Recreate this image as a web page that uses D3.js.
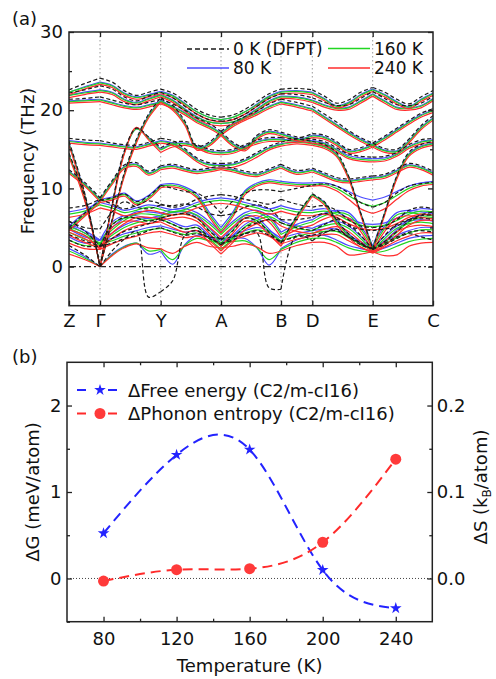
<!DOCTYPE html>
<html>
<head>
<meta charset="utf-8">
<script src="https://cdn.jsdelivr.net/npm/d3@7"></script>
<style>
  body { margin: 0; background: #fff; }
  svg { display: block; }
</style>
</head>
<body>
<svg id="fig" width="496" height="679"></svg>
<script>
// ---------- (a) phonon dispersion along Z-Γ-Y-A-B-D-E-C ----------
const kLabels = ["Z", "Γ", "Y", "A", "B", "D", "E", "C"];
const kPos = [0, 0.0852, 0.2519, 0.4176, 0.5824, 0.6684, 0.8343, 1];
const segDiv = [2, 5, 5, 5, 2, 5, 5];          // sampled points per path segment
const freqTicks = [0, 10, 20, 30];
const freqMinor = [5, 15, 25];

// band frequencies (THz) on the sampled path, one row per band
const bands0K = [
  [2.7,1.5,0.0,2.0,3.5,4.5,-3.9,-3.2,-1.8,4.0,4.6,3.6,3.0,3.4,4.2,4.3,-2.7,-2.9,4.0,3.3,4.3,4.8,3.8,2.8,2.3,2.8,3.6,4.2,3.8,3.4],
  [22.6,23.4,24.1,23.6,22.5,21.9,22.3,22.7,22.2,21.2,20.1,19.4,19.1,19.4,20.1,21.1,22.1,22.7,22.8,22.6,21.8,20.9,21.3,22.3,22.9,22.3,21.4,20.8,21.7,22.5],
  [22.2,22.6,23.1,22.7,21.7,21.2,21.8,22.3,21.6,20.5,19.5,18.8,18.6,18.8,19.5,20.5,21.5,22.1,22.0,21.6,21.0,20.6,20.7,21.5,22.4,21.5,20.7,20.6,20.9,21.8],
  [21.4,21.5,21.7,21.3,20.9,20.7,21.0,21.4,20.8,20.0,19.0,18.3,17.3,15.9,15.3,16.8,17.5,17.2,16.6,16.3,16.0,15.2,14.4,14.1,14.0,14.1,14.6,15.6,16.2,16.4],
  [16.0,9.5,0.0,6.0,12.0,16.3,19.5,21.6,20.6,18.6,15.4,15.9,17.3,18.4,19.2,19.9,20.8,21.4,21.0,20.5,19.5,18.5,17.4,16.5,15.8,15.1,15.0,16.3,18.0,19.3],
  [14.5,9.0,0.0,8.0,14.8,17.7,16.6,15.2,15.9,16.0,15.6,15.0,14.8,15.0,15.6,16.2,16.5,16.5,16.4,17.0,16.8,16.0,15.0,15.2,15.8,16.7,17.7,18.7,19.6,20.2],
  [16.4,16.2,16.1,15.8,15.6,15.5,15.9,16.4,16.1,15.1,13.9,13.3,13.2,13.3,13.8,14.6,15.4,15.9,16.3,16.0,15.6,14.6,11.6,6.9,2.3,6.9,11.6,14.6,15.6,16.0],
  [12.4,10.8,8.8,11.0,13.0,13.3,12.2,12.9,13.1,12.7,12.4,12.6,12.9,12.6,12.2,12.0,12.5,13.1,12.3,12.6,12.0,11.4,11.2,11.4,11.6,11.8,12.5,13.2,12.9,12.2],
  [5.0,6.8,8.5,8.8,9.3,8.3,9.0,10.4,10.0,9.6,9.4,8.4,6.8,8.4,9.4,9.8,9.8,9.6,10.0,10.4,10.6,10.3,9.4,8.2,7.6,8.2,9.4,10.3,10.6,10.8],
  [5.8,4.6,2.6,5.3,6.3,6.2,5.8,6.2,6.6,6.8,6.2,4.6,3.4,4.6,6.2,5.8,4.4,3.0,6.5,9.3,8.3,6.0,4.2,3.0,2.2,3.2,4.5,5.8,6.5,6.6],
  [4.1,3.3,2.6,3.6,4.5,5.0,5.5,6.0,5.4,4.8,5.0,3.8,2.8,3.8,5.0,5.6,6.0,5.6,5.0,4.6,5.4,6.0,5.4,4.0,2.2,4.0,5.4,6.0,6.2,6.0],
  [5.8,5.0,4.8,7.0,8.3,7.6,7.4,7.9,7.8,8.0,7.6,6.8,6.5,6.8,7.6,7.9,7.4,6.0,6.0,6.3,6.8,6.3,5.2,4.8,4.6,4.8,5.2,6.0,6.6,7.0],
  [7.5,7.8,8.6,8.0,7.4,7.8,8.4,8.0,7.6,7.9,8.6,9.0,9.2,9.0,8.6,8.3,8.0,8.6,8.0,7.6,7.8,7.2,6.0,5.2,5.0,5.2,6.0,7.2,7.6,7.4],
  [3.4,2.6,2.6,3.0,3.6,4.0,4.6,5.0,4.4,4.0,4.2,3.8,3.6,3.8,4.2,4.6,4.0,3.2,3.8,4.0,4.4,4.6,3.8,3.0,2.2,3.0,3.8,4.4,4.6,4.4]
];
const bands80K = [
  [2.3,1.3,0.0,1.6,2.6,3.0,1.6,2.0,0.3,2.8,4.0,3.7,3.4,3.6,3.6,2.4,0.2,2.3,3.4,4.0,4.0,3.4,2.7,2.3,2.0,2.4,3.0,3.6,3.9,4.0],
  [22.3,23.0,23.6,23.2,22.2,21.7,22.0,22.4,21.9,20.9,19.8,19.1,18.8,19.1,19.8,20.8,21.8,22.4,22.5,22.3,21.5,20.6,21.0,22.0,22.7,22.0,21.1,20.5,21.4,22.2],
  [21.9,22.3,22.6,22.3,21.4,21.0,21.5,22.0,21.3,20.2,19.2,18.5,18.3,18.5,19.2,20.2,21.2,21.8,21.7,21.3,20.7,20.3,20.4,21.2,22.1,21.2,20.4,20.3,20.6,21.5],
  [21.2,21.3,21.4,21.0,20.6,20.4,20.7,21.1,20.5,19.7,18.7,18.0,17.1,15.7,15.1,16.6,17.3,17.0,16.4,16.1,15.8,15.0,14.2,13.9,13.8,13.9,14.4,15.4,16.0,16.2],
  [15.8,9.3,0.0,5.9,11.8,16.1,19.3,21.3,20.3,18.4,15.2,15.7,17.1,18.2,19.0,19.7,20.5,21.1,20.7,20.2,19.2,18.2,17.2,16.3,15.6,14.9,14.8,16.1,17.8,19.0],
  [14.3,8.8,0.0,7.9,14.6,17.6,16.5,15.0,15.7,15.8,15.4,14.8,14.6,14.8,15.4,16.0,16.3,16.3,16.2,16.8,16.6,15.8,14.8,15.0,15.6,16.5,17.5,18.5,19.4,20.0],
  [16.1,15.9,15.8,15.6,15.4,15.3,15.7,16.1,15.8,14.9,13.7,13.1,13.0,13.1,13.6,14.4,15.2,15.7,16.0,15.8,15.4,14.4,11.5,6.9,2.5,6.9,11.5,14.4,15.4,15.8],
  [12.2,10.6,8.6,10.8,12.8,13.1,12.0,12.7,12.9,12.5,12.2,12.4,12.7,12.4,12.0,11.8,12.3,12.9,12.1,12.4,11.8,11.2,11.0,11.2,11.4,11.6,12.3,13.0,12.7,12.0],
  [5.2,6.9,8.6,8.9,9.4,8.4,9.1,10.5,10.6,10.2,9.3,7.0,5.0,7.0,9.7,10.7,11.1,10.9,10.7,10.7,10.7,10.3,9.6,8.9,8.5,8.9,9.6,10.3,10.7,10.9],
  [5.4,4.6,3.4,5.7,6.5,6.5,6.2,6.6,6.9,7.0,6.5,5.0,3.4,5.0,6.5,6.2,4.8,3.2,6.4,9.2,8.2,5.9,4.2,3.0,2.3,3.3,4.7,6.0,6.6,6.6],
  [4.8,3.8,3.4,4.3,5.3,5.9,6.2,6.4,5.7,5.1,5.3,4.0,2.6,4.0,5.4,6.2,6.8,5.9,5.2,4.9,5.5,5.8,5.2,3.9,2.4,3.9,5.2,5.8,6.0,5.8],
  [5.3,4.3,3.4,5.0,6.2,7.0,7.0,6.8,7.3,7.4,6.9,5.8,4.4,5.8,6.9,7.2,6.4,4.4,5.4,6.0,6.8,7.2,6.9,5.2,2.7,5.2,6.9,7.2,7.0,6.8],
  [7.0,7.4,8.2,7.8,7.2,7.5,7.9,7.6,7.3,7.6,8.2,8.6,8.8,8.6,8.2,7.8,7.4,7.8,7.3,7.2,7.4,7.0,6.2,5.6,5.4,5.6,6.2,7.0,7.4,7.3],
  [3.8,3.0,3.4,3.6,4.2,4.6,5.0,5.2,4.8,4.4,4.6,4.0,3.0,4.0,4.6,5.0,4.6,3.6,4.2,4.6,4.8,4.8,4.0,3.2,2.4,3.2,4.0,4.6,5.0,5.0]
];
const bands160K = [
  [2.0,1.1,0.0,1.5,2.5,3.0,2.0,2.2,0.9,2.7,3.6,3.3,3.0,3.2,3.3,2.4,0.9,2.2,3.1,3.6,3.6,3.1,2.4,2.0,1.8,2.0,2.6,3.2,3.5,3.6],
  [22.3,22.9,23.5,23.1,22.1,21.6,21.9,22.3,21.8,20.8,19.8,19.1,18.8,19.1,19.8,20.7,21.7,22.3,22.4,22.2,21.4,20.5,20.9,21.9,22.6,21.9,21.0,20.4,21.3,22.1],
  [21.9,22.2,22.5,22.2,21.3,20.9,21.4,21.9,21.2,20.1,19.1,18.5,18.3,18.5,19.1,20.1,21.1,21.7,21.6,21.2,20.6,20.2,20.3,21.1,22.0,21.1,20.3,20.2,20.5,21.4],
  [21.1,21.2,21.3,20.9,20.5,20.3,20.6,21.0,20.4,19.6,18.6,17.9,17.0,15.6,15.0,16.5,17.2,16.9,16.3,16.0,15.7,14.9,14.0,13.7,13.6,13.7,14.3,15.3,15.9,16.1],
  [15.7,9.2,0.0,5.9,11.7,16.0,19.2,21.2,20.2,18.3,15.1,15.6,17.0,18.1,18.9,19.6,20.4,21.0,20.6,20.1,19.1,18.1,17.1,16.2,15.5,14.8,14.7,16.0,17.7,18.9],
  [14.2,8.7,0.0,7.8,14.5,17.6,16.4,14.9,15.6,15.7,15.3,14.7,14.5,14.7,15.3,15.9,16.2,16.2,16.1,16.7,16.5,15.7,14.7,14.9,15.5,16.4,17.4,18.4,19.3,19.9],
  [16.0,15.8,15.7,15.5,15.3,15.2,15.6,16.0,15.7,14.8,13.6,13.0,12.9,13.0,13.5,14.3,15.1,15.6,15.9,15.7,15.3,14.3,11.4,6.8,2.3,6.8,11.4,14.3,15.3,15.7],
  [12.1,10.5,8.5,10.7,12.7,13.0,11.9,12.6,12.8,12.4,12.1,12.3,12.6,12.3,11.9,11.7,12.2,12.8,12.0,12.3,11.7,11.1,10.9,11.1,11.3,11.5,12.2,12.9,12.6,11.9],
  [4.9,6.6,8.4,8.7,9.2,8.1,8.8,10.3,10.4,10.0,9.0,6.7,4.6,6.7,9.5,10.5,10.9,10.7,10.5,10.5,10.5,10.0,9.1,8.2,7.7,8.2,9.1,10.0,10.5,10.7],
  [5.1,4.3,2.8,5.4,6.2,6.2,5.9,6.3,6.6,6.7,6.2,4.7,3.0,4.7,6.2,5.9,4.5,3.0,6.3,9.2,8.1,5.7,4.0,2.8,2.1,3.1,4.4,5.7,6.3,6.3],
  [4.4,3.5,3.0,4.0,5.0,5.6,5.9,6.1,5.4,4.8,5.0,3.6,2.2,3.6,5.1,5.9,6.4,5.6,4.9,4.6,5.2,5.5,4.9,3.6,2.1,3.6,4.9,5.5,5.7,5.5],
  [4.9,4.0,3.0,4.7,5.9,6.7,6.7,6.5,7.0,7.1,6.6,5.5,4.1,5.5,6.6,6.9,6.1,4.1,5.1,5.7,6.5,6.9,6.6,4.9,2.4,4.9,6.6,6.9,6.7,6.5],
  [6.7,7.1,7.9,7.5,6.9,7.2,7.6,7.3,7.0,7.3,7.9,8.3,8.5,8.3,7.9,7.5,7.1,7.5,7.0,6.9,7.1,6.7,5.9,5.3,5.1,5.3,5.9,6.7,7.1,7.0],
  [3.4,2.7,2.8,3.3,3.9,4.3,4.7,4.9,4.5,4.1,4.3,3.7,2.6,3.7,4.3,4.7,4.3,3.3,3.9,4.3,4.5,4.5,3.7,2.9,2.1,2.9,3.7,4.3,4.7,4.7]
];
const bands240K = [
  [1.6,0.9,0.0,1.4,2.4,2.9,2.4,2.3,1.7,2.6,3.1,2.6,2.4,2.6,2.9,2.5,1.7,2.0,2.7,3.1,3.1,2.6,1.5,1.6,1.9,1.4,1.5,2.6,3.0,3.1],
  [22.0,22.7,23.3,22.9,21.9,21.4,21.7,22.1,21.6,20.6,19.5,18.8,18.5,18.8,19.5,20.5,21.5,22.1,22.2,22.0,21.2,20.3,20.7,21.7,22.4,21.7,20.8,20.2,21.1,21.9],
  [21.6,22.0,22.3,22.0,21.1,20.7,21.2,21.7,21.0,19.9,18.9,18.2,18.0,18.2,18.9,19.9,20.9,21.5,21.4,21.0,20.4,20.0,20.1,20.9,21.8,20.9,20.1,20.0,20.3,21.2],
  [20.9,21.0,21.1,20.7,20.3,20.1,20.4,20.8,20.2,19.4,18.4,17.7,16.8,15.4,14.8,16.3,17.0,16.7,16.1,15.8,15.5,14.7,13.8,13.5,13.4,13.5,14.1,15.1,15.7,15.9],
  [15.5,9.0,0.0,5.8,11.5,15.8,19.0,21.0,20.0,18.1,14.9,15.4,16.8,17.9,18.7,19.4,20.2,20.8,20.4,19.9,18.9,17.9,16.9,16.0,15.3,14.6,14.5,15.8,17.5,18.7],
  [14.0,8.5,0.0,7.7,14.4,17.8,16.2,14.6,15.3,15.5,15.1,14.5,14.3,14.5,15.1,15.7,16.0,16.0,15.9,16.5,16.3,15.5,14.5,14.7,15.3,16.2,17.2,18.2,19.1,19.7],
  [15.8,15.6,15.5,15.3,15.1,15.0,15.4,15.8,15.5,14.6,13.4,12.7,12.6,12.7,13.2,14.0,14.9,15.4,15.7,15.5,15.1,14.1,11.2,6.6,2.0,6.6,11.2,14.1,15.1,15.5],
  [11.9,10.3,8.3,10.5,12.5,12.8,11.7,12.4,12.6,12.2,11.9,12.1,12.4,12.1,11.7,11.5,12.0,12.6,11.8,12.1,11.5,10.9,10.7,10.9,11.1,11.3,12.0,12.7,12.4,11.7],
  [4.6,6.4,8.2,8.5,9.0,7.9,8.6,10.1,10.2,9.8,8.8,6.4,4.3,6.4,9.2,10.3,10.7,10.5,10.3,10.3,10.3,9.7,8.6,7.4,6.8,7.4,8.6,9.7,10.3,10.5],
  [4.7,4.0,2.2,5.0,5.8,5.8,5.5,5.9,6.2,6.3,5.8,4.3,2.6,4.3,5.8,5.5,4.1,2.6,6.0,9.0,7.9,5.4,3.7,2.5,1.9,2.7,4.0,5.3,5.9,5.9],
  [4.0,3.1,2.4,3.6,4.6,5.2,5.5,5.7,5.0,4.4,4.6,3.1,1.6,3.1,4.7,5.5,6.0,5.2,4.5,4.2,4.8,5.1,4.5,3.2,1.8,3.2,4.5,5.1,5.3,5.1],
  [4.4,3.6,2.5,4.3,5.5,6.3,6.3,6.1,6.6,6.7,6.2,5.1,3.7,5.1,6.2,6.5,5.7,3.7,4.7,5.3,6.1,6.5,6.2,4.5,2.0,4.5,6.2,6.5,6.3,6.1],
  [6.3,6.7,7.5,7.1,6.5,6.8,7.2,6.9,6.6,6.9,7.5,7.9,8.1,7.9,7.5,7.1,6.7,7.1,6.6,6.5,6.7,6.3,5.5,4.9,4.7,4.9,5.5,6.3,6.7,6.6],
  [3.0,2.3,2.2,2.9,3.5,3.9,4.3,4.5,4.1,3.7,3.9,3.3,2.0,3.3,3.9,4.3,3.9,2.9,3.5,3.9,4.1,4.1,3.3,2.5,1.7,2.5,3.3,3.9,4.3,4.3]
];

// ---------- (b) free energy and phonon entropy differences ----------
const temperatures = [80, 120, 160, 200, 240];
const deltaFree = [0.523, 1.43, 1.49, 0.098, -0.344];        // meV/atom
const deltaEntropy = [-0.003, 0.0101, 0.0113, 0.0419, 0.138]; // kB/atom
const tempTicks = [80, 120, 160, 200, 240];
const tempMinor = [100, 140, 180, 220];
const gTicks = [0, 1, 2];
const gMinor = [-0.5, 0.5, 1.5];
const sTicks = [0, 0.1, 0.2];
const sMinor = [0.05, 0.15];

const FONT = "'DejaVu Sans', Verdana, sans-serif";
const INK = "#222";
const svg = d3.select("#fig");

function styleAxis(g, size) {
  g.select(".domain").remove();
  g.selectAll(".tick line").attr("stroke", INK).attr("stroke-width", 1.3);
  g.selectAll(".tick text").attr("font-family", FONT).attr("font-size", size || 18).attr("fill", "#111");
  return g;
}

// ===== panel (a) =====
const PA = { l: 69, r: 433, t: 32, b: 305.7 };
const xa = d3.scaleLinear().domain([0, 1]).range([PA.l, PA.r]);
const ya = d3.scaleLinear().domain([-5, 30]).range([PA.b, PA.t]);

// sampled path coordinates
const kGrid = [kPos[0]];
const segStart = [0];
segDiv.forEach((n, s) => {
  for (let j = 1; j <= n; j++) kGrid.push(kPos[s] + (kPos[s + 1] - kPos[s]) * j / n);
  segStart.push(kGrid.length - 1);
});

svg.append("defs").append("clipPath").attr("id", "clipA")
  .append("rect").attr("x", PA.l).attr("y", PA.t).attr("width", PA.r - PA.l).attr("height", PA.b - PA.t);

const gA = svg.append("g");

// high-symmetry guides
gA.selectAll("line.sym").data(kPos.slice(1, -1)).join("line")
  .attr("x1", d => xa(d)).attr("x2", d => xa(d))
  .attr("y1", PA.t).attr("y2", PA.b)
  .attr("stroke", "#9a9a9a").attr("stroke-width", 1).attr("stroke-dasharray", "1.5,2.5");

// zero-frequency reference
gA.append("line")
  .attr("x1", PA.l).attr("x2", PA.r).attr("y1", ya(0)).attr("y2", ya(0))
  .attr("stroke", INK).attr("stroke-width", 1.2).attr("stroke-dasharray", "7,3,2,3");

const series = [
  { label: "80 K", bands: bands80K, color: "#4b4bff", dash: null },
  { label: "160 K", bands: bands160K, color: "#22d622", dash: null },
  { label: "240 K", bands: bands240K, color: "#ff2d2d", dash: null },
  { label: "0 K (DFPT)", bands: bands0K, color: "#1a1a1a", dash: "4,2.5" }
];

const segLine = d3.line().x(d => xa(d[0])).y(d => ya(d[1])).curve(d3.curveCatmullRom.alpha(0.5));
const gBands = gA.append("g").attr("clip-path", "url(#clipA)");
series.forEach(sr => {
  const g = gBands.append("g");
  sr.bands.forEach(band => {
    for (let s = 0; s < segDiv.length; s++) {
      const pts = [];
      for (let i = segStart[s]; i <= segStart[s + 1]; i++) pts.push([kGrid[i], band[i]]);
      g.append("path").attr("d", segLine(pts))
        .attr("fill", "none").attr("stroke", sr.color)
        .attr("stroke-width", 1.2)
        .attr("stroke-dasharray", sr.dash);
    }
  });
});

// frame and axes
gA.append("rect").attr("x", PA.l).attr("y", PA.t).attr("width", PA.r - PA.l).attr("height", PA.b - PA.t)
  .attr("fill", "none").attr("stroke", INK).attr("stroke-width", 1.5);

styleAxis(gA.append("g").attr("transform", `translate(${PA.l},0)`)
  .call(d3.axisLeft(ya).tickValues(freqTicks).tickSizeInner(-5).tickSizeOuter(0).tickPadding(6)));
styleAxis(gA.append("g").attr("transform", `translate(${PA.l},0)`)
  .call(d3.axisLeft(ya).tickValues(freqMinor).tickSize(-3).tickFormat("")));
styleAxis(gA.append("g").attr("transform", `translate(${PA.r},0)`)
  .call(d3.axisRight(ya).tickValues(freqTicks).tickSize(-5).tickFormat("")));
styleAxis(gA.append("g").attr("transform", `translate(${PA.r},0)`)
  .call(d3.axisRight(ya).tickValues(freqMinor).tickSize(-3).tickFormat("")));
styleAxis(gA.append("g").attr("transform", `translate(0,${PA.t})`)
  .call(d3.axisTop(xa).tickValues(kPos.slice(1, -1)).tickSize(-5).tickFormat("")));
styleAxis(gA.append("g").attr("transform", `translate(0,${PA.b})`)
  .call(d3.axisBottom(xa).tickValues(kPos).tickFormat((d, i) => kLabels[i])
    .tickSizeInner(-5).tickSizeOuter(0).tickPadding(8.5)));

gA.append("text").attr("transform", `translate(34,${161}) rotate(-90)`)
  .attr("text-anchor", "middle").attr("font-family", FONT).attr("font-size", 18).attr("fill", "#111")
  .text("Frequency (THz)");
gA.append("text").attr("x", 12).attr("y", 25)
  .attr("font-family", FONT).attr("font-size", 18).attr("fill", "#111").text("(a)");

// legend (a)
const legA = [
  { s: series[3], x: 187, y: 49 },
  { s: series[0], x: 187, y: 68 },
  { s: series[1], x: 328, y: 48.5 },
  { s: series[2], x: 328, y: 68 }
];
legA.forEach(it => {
  gA.append("line").attr("x1", it.x).attr("x2", it.x + 42).attr("y1", it.y).attr("y2", it.y)
    .attr("stroke", it.s.color).attr("stroke-width", 1.3).attr("stroke-dasharray", it.s.dash ? "5,3" : null);
  gA.append("text").attr("x", it.x + 46).attr("y", it.y + 6)
    .attr("font-family", FONT).attr("font-size", 17).attr("fill", "#111").text(it.s.label);
});

// ===== panel (b) =====
const PB = { l: 67, r: 432.3, t: 362.3, b: 621.7 };
const xb = d3.scaleLinear().domain([60, 260]).range([PB.l, PB.r]);
const yG = d3.scaleLinear().domain([-0.5, 2.5]).range([PB.b, PB.t]);
const yS = d3.scaleLinear().domain([-0.05, 0.25]).range([PB.b, PB.t]);
const gB = svg.append("g");

gB.append("line").attr("x1", PB.l).attr("x2", PB.r).attr("y1", yG(0)).attr("y2", yG(0))
  .attr("stroke", "#444").attr("stroke-width", 1).attr("stroke-dasharray", "1,2");

const BLUE = "#2323ff", RED = "#ff2a2a";
const freeLine = d3.line().x((d, i) => xb(temperatures[i])).y(d => yG(d)).curve(d3.curveNatural);
const entLine = d3.line().x((d, i) => xb(temperatures[i])).y(d => yS(d)).curve(d3.curveNatural);

gB.append("path").attr("d", freeLine(deltaFree)).attr("fill", "none")
  .attr("stroke", BLUE).attr("stroke-width", 2).attr("stroke-dasharray", "10,6");
gB.append("path").attr("d", entLine(deltaEntropy)).attr("fill", "none")
  .attr("stroke", RED).attr("stroke-width", 2).attr("stroke-dasharray", "10,6");

const star = d3.symbol().type(d3.symbolStar).size(42);
gB.selectAll("path.star").data(deltaFree).join("path")
  .attr("transform", (d, i) => `translate(${xb(temperatures[i])},${yG(d)})`)
  .attr("d", star()).attr("fill", BLUE);
gB.selectAll("circle.ent").data(deltaEntropy).join("circle")
  .attr("cx", (d, i) => xb(temperatures[i])).attr("cy", d => yS(d)).attr("r", 5.5)
  .attr("fill", "#ff3a3a");

gB.append("rect").attr("x", PB.l).attr("y", PB.t).attr("width", PB.r - PB.l).attr("height", PB.b - PB.t)
  .attr("fill", "none").attr("stroke", INK).attr("stroke-width", 1.5);

styleAxis(gB.append("g").attr("transform", `translate(0,${PB.b})`)
  .call(d3.axisBottom(xb).tickValues(tempTicks).tickSizeInner(-5).tickSizeOuter(0).tickPadding(10.5)));
styleAxis(gB.append("g").attr("transform", `translate(0,${PB.b})`)
  .call(d3.axisBottom(xb).tickValues(tempMinor).tickSize(-3).tickFormat("")));
styleAxis(gB.append("g").attr("transform", `translate(0,${PB.t})`)
  .call(d3.axisTop(xb).tickValues(tempTicks).tickSize(-5).tickFormat("")));
styleAxis(gB.append("g").attr("transform", `translate(0,${PB.t})`)
  .call(d3.axisTop(xb).tickValues(tempMinor).tickSize(-3).tickFormat("")));
styleAxis(gB.append("g").attr("transform", `translate(${PB.l},0)`)
  .call(d3.axisLeft(yG).tickValues(gTicks).tickFormat(d3.format("d")).tickSizeInner(-5).tickSizeOuter(0).tickPadding(5.5)));
styleAxis(gB.append("g").attr("transform", `translate(${PB.l},0)`)
  .call(d3.axisLeft(yG).tickValues(gMinor).tickSize(-3).tickFormat("")));
styleAxis(gB.append("g").attr("transform", `translate(${PB.r},0)`)
  .call(d3.axisRight(yS).tickValues(sTicks).tickFormat(d3.format(".1f")).tickSizeInner(-5).tickSizeOuter(0).tickPadding(4.5)));
styleAxis(gB.append("g").attr("transform", `translate(${PB.r},0)`)
  .call(d3.axisRight(yS).tickValues(sMinor).tickSize(-3).tickFormat("")));

gB.append("text").attr("x", (PB.l + PB.r) / 2).attr("y", 672)
  .attr("text-anchor", "middle").attr("font-family", FONT).attr("font-size", 18).attr("fill", "#111")
  .text("Temperature (K)");
gB.append("text").attr("transform", `translate(39,${492}) rotate(-90)`)
  .attr("text-anchor", "middle").attr("font-family", FONT).attr("font-size", 18).attr("fill", "#111")
  .text("ΔG (meV/atom)");
const sTitle = gB.append("text").attr("transform", `translate(487,${487}) rotate(-90)`)
  .attr("text-anchor", "middle").attr("font-family", FONT).attr("font-size", 18).attr("fill", "#111");
sTitle.append("tspan").text("ΔS (k");
sTitle.append("tspan").attr("font-size", 12).attr("dy", 4).text("B");
sTitle.append("tspan").attr("dy", -4).text("/atom)");
gB.append("text").attr("x", 12).attr("y", 363)
  .attr("font-family", FONT).attr("font-size", 18).attr("fill", "#111").text("(b)");

// legend (b)
const legB = [
  { label: "ΔFree energy (C2/m-cI16)", color: BLUE, marker: "star", y: 390 },
  { label: "ΔPhonon entropy (C2/m-cI16)", color: RED, marker: "circle", y: 413.5 }
];
legB.forEach(it => {
  gB.append("line").attr("x1", 77).attr("x2", 117).attr("y1", it.y).attr("y2", it.y)
    .attr("stroke", it.color).attr("stroke-width", 2).attr("stroke-dasharray", "9,22,9");
  if (it.marker === "star") {
    gB.append("path").attr("transform", `translate(100,${it.y})`).attr("d", star()).attr("fill", it.color);
  } else {
    gB.append("circle").attr("cx", 100).attr("cy", it.y).attr("r", 5.5).attr("fill", "#ff3a3a");
  }
  gB.append("text").attr("x", 128).attr("y", it.y + 6.5)
    .attr("font-family", FONT).attr("font-size", 18).attr("fill", "#111").text(it.label);
});
</script>
</body>
</html>
